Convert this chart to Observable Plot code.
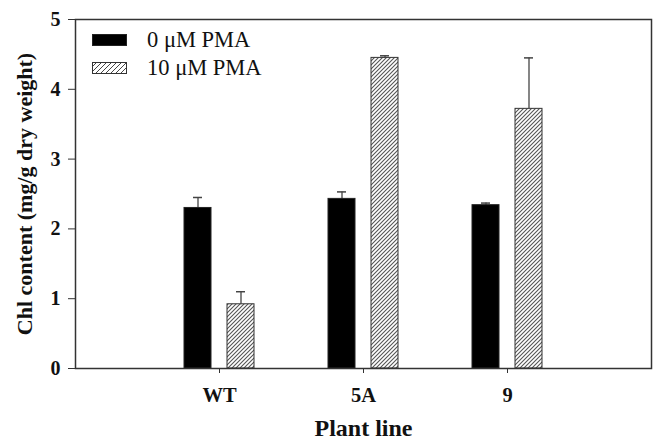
<!DOCTYPE html>
<html>
<head>
<meta charset="utf-8">
<script src="https://cdn.jsdelivr.net/npm/d3@7"></script>
<script src="https://cdn.jsdelivr.net/npm/@observablehq/plot@0.6"></script>
<style>
  body { margin: 0; background: #fff; }
  #wrap { position: relative; width: 655px; height: 439px; font-family: "Liberation Serif", "Times New Roman", serif; }
  #legend { position: absolute; left: 92px; top: 26px; font-size: 22.5px; color: #111; }
  .row { display: flex; align-items: center; height: 28px; }
  .sw { width: 35px; height: 12px; margin-right: 20px; box-sizing: border-box; border: 1px solid #222; }
</style>
</head>
<body>
<div id="wrap"></div>
<script>
// ---- data ----
const lines = ["WT", "5A", "9"];
const series = ["0 μM PMA", "10 μM PMA"];
const values0 = [2.30, 2.43, 2.34];
const errors0 = [0.15, 0.10, 0.03];
const values10 = [0.92, 4.45, 3.72];
const errors10 = [0.18, 0.03, 0.73];
const yTicks = [0, 1, 2, 3, 4, 5];

const d0 = lines.map((l, i) => ({line: l, v: values0[i], e: errors0[i]}));
const d10 = lines.map((l, i) => ({line: l, v: values10[i], e: errors10[i]}));

const font = "Liberation Serif, Times New Roman, serif";
const inner = 43; // inset that narrows each bar to its half of the group

const svg = Plot.plot({
  width: 655,
  height: 439,
  marginLeft: 75,
  marginRight: 4,
  marginTop: 19,
  marginBottom: 71,
  style: {fontFamily: font, background: "#fff", color: "#111", overflow: "visible"},
  x: {type: "band", domain: lines, paddingInner: 0.514, paddingOuter: 0.757, axis: null},
  y: {domain: [0, 5], axis: null},
  marks: [
    // error bars (upper only, like the original)
    Plot.ruleX(d0, {x: "line", y1: "v", y2: d => d.v + d.e, dx: -21.5, stroke: "#444", strokeWidth: 1.3}),
    Plot.tickY(d0, {x: "line", y: d => d.v + d.e, insetLeft: 9, insetRight: 52, stroke: "#444", strokeWidth: 1.5}),
    Plot.ruleX(d10, {x: "line", y1: "v", y2: d => d.v + d.e, dx: 21.5, stroke: "#444", strokeWidth: 1.3}),
    Plot.tickY(d10, {x: "line", y: d => d.v + d.e, insetLeft: 52, insetRight: 9, stroke: "#444", strokeWidth: 1.5}),
    // bars
    Plot.barY(d0, {x: "line", y: "v", insetRight: inner, fill: "#000", stroke: "#222", strokeWidth: 1}),
    Plot.barY(d10, {x: "line", y: "v", insetLeft: inner, fill: "url(#hatch)", stroke: "#333", strokeWidth: 1}),
    Plot.frame({stroke: "#333", strokeWidth: 1.5}),
    Plot.axisY({ticks: yTicks, tickFormat: d3.format("d"), tickSize: 7, tickPadding: 8, fontSize: 20, fontWeight: "bold", stroke: "#333", label: null}),
    Plot.axisX({tickSize: 5, tickPadding: 14, fontSize: 20.5, fontWeight: "bold", stroke: "#333", label: null}),
    Plot.text(["Chl content (mg/g dry weight)"], {frameAnchor: "left", textAnchor: "middle", rotate: -90, dx: -51, fontSize: 22, fontWeight: "bold", fill: "#111"}),
    Plot.text(["Plant line"], {frameAnchor: "bottom", dy: 67, fontSize: 24, fontWeight: "bold", fill: "#111"})
  ]
});

const defs = d3.select(svg).insert("defs", ":first-child");
const pat = defs.append("pattern")
  .attr("id", "hatch").attr("patternUnits", "userSpaceOnUse")
  .attr("width", 4).attr("height", 4);
pat.append("rect").attr("width", 4).attr("height", 4).attr("fill", "#fff");
pat.append("path").attr("d", "M-1,1 l2,-2 M0,4 l4,-4 M3,5 l2,-2")
  .attr("stroke", "#555").attr("stroke-width", 1.1);

const wrap = document.getElementById("wrap");
wrap.appendChild(svg);

// legend
const hatchSvg = '<svg width="35" height="12" style="display:block;margin-right:20px"><defs><pattern id="hatchL" patternUnits="userSpaceOnUse" width="5" height="5"><rect width="5" height="5" fill="#fff"/><path d="M-1,1 l2,-2 M0,5 l5,-5 M4,6 l2,-2" stroke="#444" stroke-width="1"/></pattern></defs><rect x="0.5" y="0.5" width="34" height="11" fill="url(#hatchL)" stroke="#333"/></svg>';
const legend = document.createElement("div");
legend.id = "legend";
legend.innerHTML =
  `<div class="row"><div class="sw" style="background:#000"></div><span>${series[0]}</span></div>` +
  `<div class="row">${hatchSvg}<span>${series[1]}</span></div>`;
wrap.appendChild(legend);
</script>
</body>
</html>
